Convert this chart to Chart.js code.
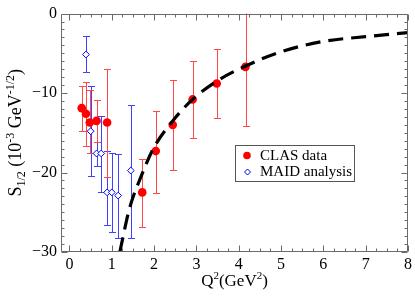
<!DOCTYPE html>
<html>
<head>
<meta charset="utf-8">
<script src="https://cdn.jsdelivr.net/npm/chart.js@4"></script>
<style>
  body { margin: 0; background: #fff; }
  #wrap { width: 415px; height: 297px; }
</style>
</head>
<body>
<div id="wrap"><canvas id="chart" width="415" height="297"></canvas></div>
<script>
// CLAS data points, with the ends of the error bars
const clasQ2 = [0.29, 0.39, 0.48, 0.64, 0.89, 1.72, 2.04, 2.44, 2.91, 3.48, 4.16];
const clasS  = [-11.9, -12.6, -13.7, -13.5, -13.7, -22.5, -17.3, -14.0, -10.8, -8.8, -6.7];
const clasHi = [-9.1, -8.6, -9.6, -10.9, -7.0, -18.3, -12.2, -8.3, -6.0, -4.5, 1.0];
const clasLo = [-14.8, -16.7, -17.5, -16.1, -20.5, -26.9, -22.6, -19.7, -15.6, -13.2, -14.1];

// MAID analysis
const maidQ2 = [0.39, 0.50, 0.64, 0.75, 0.89, 1.00, 1.15, 1.45];
const maidS  = [-5.15, -14.8, -17.6, -17.6, -22.5, -22.5, -22.9, -19.75];
const maidHi = [-2.8, -9.1, -16.2, -12.9, -17.3, -17.5, -17.7, -11.5];
const maidLo = [-7.4, -20.4, -19.2, -22.5, -26.6, -27.5, -28.3, -28.2];

// dashed curve
const curveQ2 = [1.19, 1.42, 1.70, 1.97, 2.44, 2.91, 3.48, 4.16, 5.0, 6.0, 7.0, 8.0];
const curveS  = [-30, -24.5, -20.4, -17.1, -13.5, -10.8, -8.5, -6.6, -4.8, -3.5, -2.9, -2.4];

const xTicks = [0, 1, 2, 3, 4, 5, 6, 7, 8];
const yTicks = [-30, -20, -10, 0];

const legendNames = ["CLAS data", "MAID analysis"];

const serif = "'Liberation Serif', 'Times New Roman', serif";
const frameColor = "#6a6a6a";

function pts(xs, ys) {
  return xs.map((x, i) => ({ x: x, y: ys[i] }));
}

// draw a run of text pieces (main / sub / sup) starting at x, baseline y
function drawPieces(ctx, pieces, x, y) {
  pieces.forEach(p => {
    ctx.font = p.size + "px " + serif;
    ctx.fillText(p.t, x, y + (p.dy || 0));
    x += ctx.measureText(p.t).width;
  });
}
function piecesWidth(ctx, pieces) {
  let w = 0;
  pieces.forEach(p => {
    ctx.font = p.size + "px " + serif;
    w += ctx.measureText(p.t).width;
  });
  return w;
}

const errorBars = {
  id: "errorBars",
  beforeDatasetsDraw(chart) {
    const ctx = chart.ctx;
    const xs = chart.scales.x, ys = chart.scales.y;
    const a = chart.chartArea;
    ctx.save();
    ctx.beginPath();
    ctx.rect(a.left, a.top, a.right - a.left, a.bottom - a.top);
    ctx.clip();
    ctx.lineWidth = 1;
    function bars(qs, hi, lo, color) {
      ctx.strokeStyle = color;
      qs.forEach((q, i) => {
        const px = Math.round(xs.getPixelForValue(q)) + 0.5;
        const y1 = Math.round(ys.getPixelForValue(hi[i])) + 0.5;
        const y2 = Math.round(ys.getPixelForValue(lo[i])) + 0.5;
        ctx.beginPath();
        ctx.moveTo(px, y1); ctx.lineTo(px, y2);
        ctx.moveTo(px - 3.5, y1); ctx.lineTo(px + 3.5, y1);
        ctx.moveTo(px - 3.5, y2); ctx.lineTo(px + 3.5, y2);
        ctx.stroke();
      });
    }
    bars(maidQ2, maidHi, maidLo, "#4040ff");
    bars(clasQ2, clasHi, clasLo, "#ff4848");
    ctx.restore();
  }
};

const frame = {
  id: "frame",
  afterDraw(chart) {
    const ctx = chart.ctx;
    const xs = chart.scales.x, ys = chart.scales.y;
    const a = chart.chartArea;
    ctx.save();
    ctx.strokeStyle = frameColor;
    ctx.lineWidth = 1;
    const L = Math.round(a.left) + 0.5, R = Math.round(a.right) - 0.5;
    const T = Math.round(a.top) + 0.5, B = Math.round(a.bottom) - 0.5;
    ctx.beginPath();
    ctx.rect(L, T, R - L, B - T);
    ctx.stroke();

    // inward ticks on all four sides
    ctx.beginPath();
    for (let v = 0; v <= 8.001; v += 0.25) {
      const len = Math.abs(v - Math.round(v)) < 1e-6 ? 6 : 3;
      const px = Math.round(xs.getPixelForValue(v)) + 0.5;
      ctx.moveTo(px, B); ctx.lineTo(px, B - len);
      ctx.moveTo(px, T); ctx.lineTo(px, T + len);
    }
    for (let v = -30; v <= 0; v += 1) {
      const len = v % 10 === 0 ? 6 : 3;
      const py = Math.round(ys.getPixelForValue(v)) + 0.5;
      ctx.moveTo(L, py); ctx.lineTo(L + len, py);
      ctx.moveTo(R, py); ctx.lineTo(R - len, py);
    }
    ctx.stroke();

    // axis titles
    ctx.fillStyle = "#000";
    ctx.textBaseline = "alphabetic";
    ctx.textAlign = "left";
    const xTitle = [
      { t: "Q", size: 17 }, { t: "2", size: 11, dy: -7 },
      { t: "(GeV", size: 17 }, { t: "2", size: 11, dy: -7 }, { t: ")", size: 17 }
    ];
    const xw = piecesWidth(ctx, xTitle);
    drawPieces(ctx, xTitle, (a.left + a.right) / 2 - xw / 2, 286);

    const yTitle = [
      { t: "S", size: 18 }, { t: "1/2", size: 12, dy: 4 },
      { t: " (10", size: 18 }, { t: "-3", size: 12, dy: -7 },
      { t: " GeV", size: 18 }, { t: "-1/2", size: 12, dy: -7 }, { t: ")", size: 18 }
    ];
    const yw = piecesWidth(ctx, yTitle);
    ctx.save();
    ctx.translate(21, (a.top + a.bottom) / 2);
    ctx.rotate(-Math.PI / 2);
    drawPieces(ctx, yTitle, -yw / 2, 0);
    ctx.restore();

    // legend box
    ctx.strokeStyle = "#555";
    ctx.fillStyle = "#fff";
    ctx.fillRect(236, 146, 119, 36);
    ctx.strokeRect(235.5, 145.5, 119, 36);
    ctx.fillStyle = "#ff0000";
    ctx.beginPath();
    ctx.arc(247, 155.5, 3.8, 0, Math.PI * 2);
    ctx.fill();
    ctx.strokeStyle = "#0000ff";
    ctx.beginPath();
    ctx.moveTo(247.5, 169); ctx.lineTo(250.5, 172); ctx.lineTo(247.5, 175); ctx.lineTo(244.5, 172);
    ctx.closePath();
    ctx.stroke();
    ctx.fillStyle = "#000";
    ctx.font = "15px " + serif;
    ctx.fillText(legendNames[0], 260, 160);
    ctx.fillText(legendNames[1], 260, 175.5);
    ctx.restore();
  }
};

const ctx = document.getElementById("chart").getContext("2d");
new Chart(ctx, {
  type: "scatter",
  data: {
    datasets: [
      {
        label: "curve",
        data: pts(curveQ2, curveS),
        showLine: true,
        borderColor: "#000",
        borderWidth: 3.2,
        borderDash: [15, 8],
        cubicInterpolationMode: "monotone",
        pointRadius: 0,
        fill: false
      },
      {
        label: legendNames[0],
        data: pts(clasQ2, clasS),
        pointStyle: "circle",
        pointRadius: 4.3,
        pointBorderWidth: 0,
        backgroundColor: "#ff0000",
        borderColor: "#ff0000"
      },
      {
        label: legendNames[1],
        data: pts(maidQ2, maidS),
        pointStyle: "rectRot",
        pointRadius: 3.4,
        pointBorderWidth: 1,
        backgroundColor: "#ffffff",
        borderColor: "#0000ff"
      }
    ]
  },
  options: {
    responsive: false,
    animation: false,
    devicePixelRatio: 1,
    layout: { padding: { top: 6, right: 5, left: 0, bottom: 0 } },
    plugins: {
      legend: { display: false },
      tooltip: { enabled: false }
    },
    scales: {
      x: {
        type: "linear",
        min: -0.2,
        max: 8,
        afterFit(s) { s.height = 45; },
        afterBuildTicks(s) { s.ticks = xTicks.map(v => ({ value: v })); },
        grid: { display: false, drawTicks: false },
        border: { display: false },
        ticks: {
          padding: 3,
          maxRotation: 0,
          autoSkip: false,
          color: "#000",
          font: { family: serif, size: 16 }
        }
      },
      y: {
        type: "linear",
        min: -30,
        max: 0,
        afterFit(s) { s.width = 61; },
        afterBuildTicks(s) { s.ticks = yTicks.map(v => ({ value: v })); },
        grid: { display: false, drawTicks: false },
        border: { display: false },
        ticks: {
          padding: 4,
          color: "#000",
          font: { family: serif, size: 16 },
          callback: v => String(v).replace("-", "\u2212")
        }
      }
    }
  },
  plugins: [errorBars, frame]
});
</script>
</body>
</html>
